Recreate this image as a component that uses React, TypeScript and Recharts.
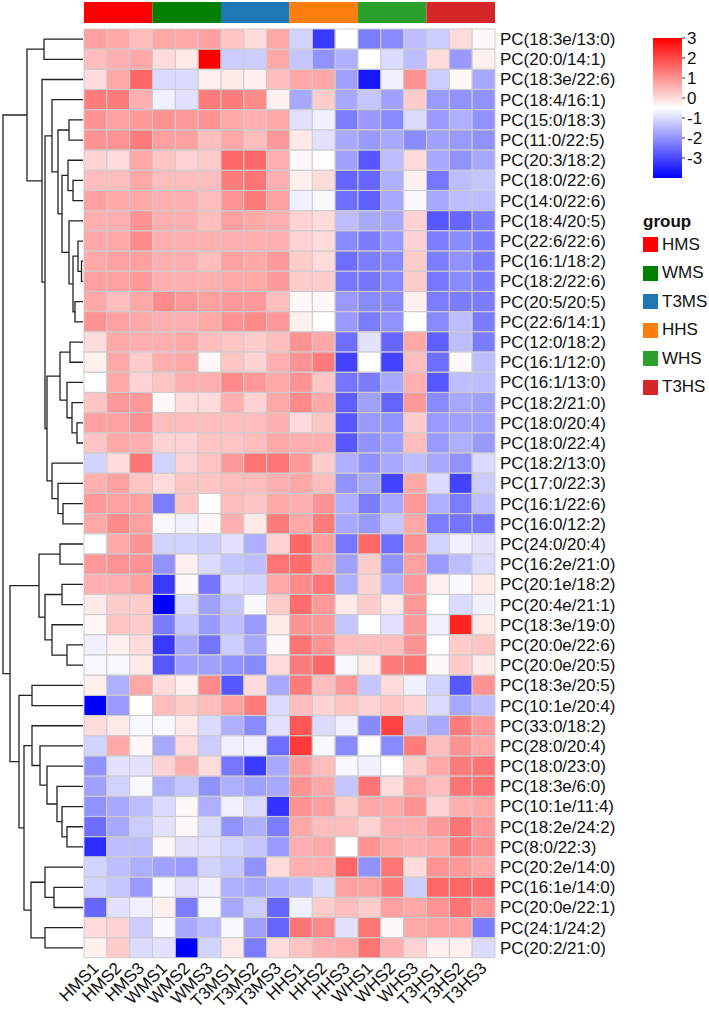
import React from 'react';
import { BarChart, Bar, Cell, XAxis, YAxis, ScatterChart, Scatter } from 'recharts';

const samples = ['HMS1', 'HMS2', 'HMS3', 'WMS1', 'WMS2', 'WMS3', 'T3MS1', 'T3MS2', 'T3MS3',
  'HHS1', 'HHS2', 'HHS3', 'WHS1', 'WHS2', 'WHS3', 'T3HS1', 'T3HS2', 'T3HS3'];
const sampleGroup = ['HMS', 'HMS', 'HMS', 'WMS', 'WMS', 'WMS', 'T3MS', 'T3MS', 'T3MS',
  'HHS', 'HHS', 'HHS', 'WHS', 'WHS', 'WHS', 'T3HS', 'T3HS', 'T3HS'];
const groups = ['HMS', 'WMS', 'T3MS', 'HHS', 'WHS', 'T3HS'];
const groupColors = ['#FF0000', '#008000', '#1F77B4', '#FF7F0E', '#2CA02C', '#D62728'];

const lipids = [
  'PC(18:3e/13:0)', 'PC(20:0/14:1)', 'PC(18:3e/22:6)', 'PC(18:4/16:1)', 'PC(15:0/18:3)',
  'PC(11:0/22:5)', 'PC(20:3/18:2)', 'PC(18:0/22:6)', 'PC(14:0/22:6)', 'PC(18:4/20:5)',
  'PC(22:6/22:6)', 'PC(16:1/18:2)', 'PC(18:2/22:6)', 'PC(20:5/20:5)', 'PC(22:6/14:1)',
  'PC(12:0/18:2)', 'PC(16:1/12:0)', 'PC(16:1/13:0)', 'PC(18:2/21:0)', 'PC(18:0/20:4)',
  'PC(18:0/22:4)', 'PC(18:2/13:0)', 'PC(17:0/22:3)', 'PC(16:1/22:6)', 'PC(16:0/12:2)',
  'PC(24:0/20:4)', 'PC(16:2e/21:0)', 'PC(20:1e/18:2)', 'PC(20:4e/21:1)', 'PC(18:3e/19:0)',
  'PC(20:0e/22:6)', 'PC(20:0e/20:5)', 'PC(18:3e/20:5)', 'PC(10:1e/20:4)', 'PC(33:0/18:2)',
  'PC(28:0/20:4)', 'PC(18:0/23:0)', 'PC(18:3e/6:0)', 'PC(10:1e/11:4)', 'PC(18:2e/24:2)',
  'PC(8:0/22:3)', 'PC(20:2e/14:0)', 'PC(16:1e/14:0)', 'PC(20:0e/22:1)', 'PC(24:1/24:2)',
  'PC(20:2/21:0)',
];

// scaled values, one row per lipid, columns in sample order
const values: number[][] = [
  [0.8, 0.7, 0.4, 0.7, 0.7, 0.8, 0.3, 0.0, 0.7, -1.1, -3.2, -0.5, -2.3, -2.1, -1.4, -1.2, 0.0, -0.4],
  [0.4, 0.6, 0.7, 0.0, -0.2, 3.0, -1.2, -1.2, 0.7, -1.3, -2.0, -1.6, -0.5, -1.0, -1.4, 0.0, -1.9, -0.3],
  [0.0, 0.7, 1.6, -1.0, -1.0, -0.3, -0.2, -0.3, 0.4, 0.7, 0.7, -1.8, -3.7, -0.7, 1.0, -1.2, -0.4, -1.7],
  [1.3, 1.3, 0.6, -0.7, -0.9, 1.3, 1.3, 1.1, -0.3, -1.7, 0.2, -1.7, -1.3, -1.8, 0.2, -1.9, -2.0, -2.0],
  [1.0, 0.8, 0.9, 1.0, 0.9, 1.0, 0.7, 0.6, 0.7, -0.9, -0.7, -2.3, -1.9, -2.1, -1.0, -1.9, -1.6, -2.0],
  [1.0, 1.0, 1.3, 0.8, 0.8, 0.4, 0.7, 0.4, 0.9, -0.2, -0.9, -1.7, -1.9, -1.7, -2.1, -1.8, -1.9, -2.0],
  [0.1, 0.0, 0.7, 0.3, 0.1, 0.2, 1.6, 1.6, 0.6, -0.4, -0.5, -1.8, -2.8, -1.4, 0.0, -1.7, -2.0, -1.7],
  [0.4, 0.4, 0.7, 0.4, 0.4, 0.4, 1.3, 1.4, 0.6, -0.3, 0.0, -2.6, -2.6, -1.6, -0.3, -2.4, -1.4, -1.3],
  [0.8, 0.7, 0.7, 0.6, 0.6, 0.4, 1.0, 1.3, 0.8, -0.7, -0.6, -2.5, -2.7, -1.7, -0.6, -1.7, -1.4, -1.4],
  [0.6, 0.6, 1.0, 0.6, 0.6, 0.4, 0.8, 0.7, 0.6, 0.1, 0.0, -1.4, -1.7, -1.7, 0.1, -2.8, -2.6, -2.3],
  [0.7, 0.7, 1.1, 0.6, 0.6, 0.6, 0.6, 0.6, 0.6, 0.1, 0.0, -2.1, -2.3, -1.9, 0.1, -2.3, -2.1, -2.3],
  [0.7, 0.8, 0.8, 0.6, 0.6, 0.4, 0.8, 0.7, 0.9, 0.2, 0.0, -2.5, -2.3, -2.1, 0.2, -2.3, -2.0, -2.3],
  [0.8, 0.8, 0.9, 0.6, 0.6, 0.6, 0.7, 0.7, 0.9, 0.2, 0.2, -2.4, -2.4, -2.1, 0.2, -2.4, -2.1, -2.3],
  [0.7, 0.4, 0.7, 1.1, 0.9, 0.8, 0.9, 0.9, 0.4, -0.4, -0.4, -1.9, -2.1, -2.1, -0.3, -2.3, -2.3, -2.3],
  [1.0, 0.8, 0.7, 0.6, 0.6, 0.7, 1.0, 1.1, 0.9, -0.3, -0.5, -1.9, -2.3, -2.0, -0.5, -2.1, -1.4, -2.3],
  [0.0, 0.7, 0.6, 0.6, 0.7, 0.4, 0.3, 0.2, 0.4, 1.0, 0.7, -2.5, -0.9, -2.6, 0.7, -2.7, -1.4, -2.3],
  [-0.3, 0.7, 0.2, 0.6, 0.7, -0.4, 0.3, 0.1, 0.6, 1.0, 1.3, -3.1, -0.5, -3.1, 0.4, -2.5, -0.4, -1.4],
  [-0.5, 0.7, 0.1, 0.3, 0.6, 0.6, 1.1, 0.9, 0.7, 1.0, 0.3, -2.4, -2.3, -1.7, 0.6, -2.8, -1.4, -1.4],
  [0.3, 0.9, 0.9, -0.4, 0.0, 0.0, 0.6, 0.1, 0.7, 1.1, 0.7, -2.7, -1.8, -2.6, 0.9, -2.1, -1.7, -1.8],
  [0.8, 0.8, 1.0, 0.4, 0.4, 0.4, 0.4, 0.4, 0.6, 0.0, 0.3, -2.8, -1.9, -2.0, 0.2, -1.9, -1.8, -1.8],
  [0.3, 0.7, 0.6, 0.1, 0.1, 0.3, 0.3, 0.4, 0.7, 0.6, 0.6, -2.8, -2.0, -1.8, 0.4, -1.9, -1.6, -1.9],
  [-1.1, 0.0, 1.4, -1.1, 0.1, 0.3, 0.9, 1.4, 1.4, 0.9, 0.2, -1.6, -2.0, -1.7, -1.4, -1.7, -2.0, -1.0],
  [0.6, 0.8, 0.3, 0.0, 0.3, 0.3, 0.4, 0.4, 0.6, 0.7, 0.4, -2.0, -1.7, -3.1, 0.7, -1.0, -3.1, -1.2],
  [0.9, 0.8, 0.8, -2.3, 0.3, -0.5, 0.4, 0.3, 0.7, 0.6, 1.0, -1.6, -2.3, -1.7, 0.9, -1.6, -2.3, -1.4],
  [0.7, 1.1, 0.8, -0.6, -0.7, -0.4, 0.6, -0.2, 1.3, 0.7, 1.3, -1.7, -1.9, -1.3, 0.7, -2.3, -2.4, -2.4],
  [-0.5, 0.7, 1.0, -1.1, -1.1, -1.2, -0.9, -1.6, 0.1, 1.6, 0.8, -2.4, 1.6, -2.5, 1.0, -1.1, -0.7, -0.9],
  [0.9, 1.0, 1.0, -2.0, -0.3, -1.0, -1.3, -1.4, 1.4, 1.5, 0.7, -1.8, 0.2, -2.0, 0.8, -1.9, -1.4, -1.0],
  [0.6, 0.6, 0.8, -3.2, -0.4, -2.4, -1.0, -1.1, 0.7, 1.1, 1.4, -1.6, 0.1, -1.6, 0.9, -0.3, -0.6, -0.2],
  [-0.2, 0.2, 0.2, -4.0, -1.0, -1.8, -1.3, -0.6, 0.2, 1.5, 0.9, -0.2, 0.2, -0.2, 0.9, -0.5, -1.0, -0.7],
  [-0.4, 0.3, 0.2, -2.3, -1.3, -1.9, -1.4, -1.9, -0.2, 1.0, 0.9, -1.3, -0.5, -0.9, 0.9, -0.7, 2.5, -0.2],
  [-0.7, -0.3, 0.0, -3.2, -1.7, -2.4, -1.2, -1.7, -0.4, 1.4, 1.0, 0.4, 0.4, 0.4, 1.0, -0.5, 0.2, 0.3],
  [-0.6, -0.6, -0.2, -2.8, -1.8, -1.8, -2.0, -2.1, 0.0, 1.3, 1.6, -0.6, -0.2, 1.3, 1.4, -0.4, 0.2, -0.2],
  [-0.3, -1.6, 0.7, 0.0, -0.3, 1.1, -2.8, 0.0, -1.7, 1.3, 0.4, 0.9, -1.3, 0.0, -0.7, -1.1, -2.8, 1.0],
  [-4.0, -1.9, -0.5, 0.4, 0.2, 0.4, 0.8, 1.3, -1.0, 0.4, 0.1, 0.3, 0.1, 0.3, 0.1, -1.0, -1.7, -1.4],
  [0.0, -0.2, -0.6, -0.6, -0.2, -1.0, -1.6, -2.1, -0.9, 1.8, -1.0, -0.7, -2.1, 2.1, -1.4, -1.7, 1.3, 0.9],
  [-1.1, 0.7, -0.4, -1.7, 0.0, -1.2, -0.7, -0.7, -2.5, 2.2, -0.6, -2.1, -0.5, -2.1, 1.3, 0.4, 1.0, 0.7],
  [-2.0, -0.9, -0.9, 0.1, 0.6, 0.0, -2.4, -3.2, -1.7, 0.8, 0.4, -0.6, -0.7, -0.5, 0.2, 0.7, 1.3, 1.4],
  [-1.8, -1.1, -0.6, -1.6, -1.3, -2.0, -1.6, -1.8, -1.7, 1.0, 0.7, -1.3, 1.4, 0.0, 0.7, 0.4, 1.4, 1.4],
  [-2.0, -1.7, -1.4, -1.0, -0.4, -1.6, -0.7, -1.0, -3.3, 1.0, 0.8, 0.2, 0.7, 0.7, 1.0, 0.1, 0.6, 0.7],
  [-2.5, -1.7, -1.2, -0.9, -0.4, -1.0, -2.0, -1.6, -2.3, 0.7, 0.4, 0.4, 0.1, 0.6, 0.6, 0.9, 1.4, 0.9],
  [-3.4, -1.4, -1.4, -0.4, -0.9, -0.9, -1.1, -1.3, -1.9, 0.6, 0.7, -0.5, 1.0, 0.7, 0.6, 0.7, 1.3, 1.0],
  [-1.1, -1.4, -1.6, -1.8, -1.9, -1.1, -1.3, -2.0, 0.0, 0.6, 0.6, 1.6, -2.0, 1.4, 0.0, 1.0, 0.9, 0.7],
  [-1.1, -1.3, -1.9, -0.6, -0.9, -0.7, -1.6, -1.7, -1.6, -1.4, -1.0, 0.8, 0.8, 1.3, -1.2, 1.6, 1.6, 1.6],
  [-2.6, -0.9, -0.7, -0.3, -2.3, -0.6, -1.7, -1.2, -2.6, -0.7, 0.2, 0.4, 0.2, 0.8, 0.7, 1.0, 1.4, 1.0],
  [0.0, 0.1, -1.2, -0.6, -1.7, -1.4, -0.6, -1.8, -2.6, 1.4, 1.1, -0.9, 1.4, -0.4, 0.7, 0.8, 0.8, -2.3],
  [-0.3, 0.2, -1.0, -0.9, -4.0, -1.1, -0.2, -2.3, 0.0, 0.3, 0.6, 0.7, 1.4, 0.6, 0.1, -0.3, -0.3, -1.0],
];

const scaleTicks = [3, 2, 1, 0, -1, -2, -3];
const LO = -4;
const HI = 3;

// row clustering: [left, right, merge height], numbers are row indices
type Node = number | [Node, Node, number];
const upperTop: Node = [[0, 1, 39], [2, [
  [3, [[4, 5, 14], [[6, [7, 8, 10], 15], [9, [[10, [11, 12, 1.5], 5], [13, 14, 8], 10], 14], 21], 25], 31],
  [[[15, 16, 13], [17, [18, [19, 20, 6], 11], 16], 23], [21, [22, [23, 24, 20], 25], 31], 36],
  38], 41], 56];
const lowerMid: Node = [[25, 26, 23], [[27, 28, 21], [29, [30, 31, 16], 31], 38], 44];
const lowerBottom: Node = [[32, 33, 51], [
  [34, [35, [36, [37, [38, [39, 40, 16], 21], 26], 36], 43], 51],
  [[41, [42, 43, 29], 38], [44, 45, 38], 52],
  59], 64];
const tree: Node = [upperTop, [lowerMid, lowerBottom, 73], 80];

function walk(n: Node, out: { h: number; y: number }[][]): { h: number; y: number } {
  if (typeof n === 'number') return { h: 0, y: n + 0.5 };
  const l = walk(n[0], out);
  const r = walk(n[1], out);
  out.push([
    { h: l.h, y: l.y },
    { h: n[2], y: l.y },
    { h: n[2], y: r.y },
    { h: r.h, y: r.y },
  ]);
  return { h: n[2], y: (l.y + r.y) / 2 };
}
const links: { h: number; y: number }[][] = [];
walk(tree, links);

function heat(v: number) {
  const mid = (LO + HI) / 2;
  if (v >= mid) {
    const c = Math.round(255 * (1 - Math.min(1, (v - mid) / (HI - mid))));
    return `rgb(255,${c},${c})`;
  }
  const c = Math.round(255 * (1 - Math.min(1, (mid - v) / (mid - LO))));
  return `rgb(${c},${c},255)`;
}

const font = '"Liberation Sans", Arial, sans-serif';

const rows = lipids.map((name) => {
  const r: Record<string, any> = { name };
  samples.forEach((s) => (r[s] = 1));
  return r;
});
const groupRow: Record<string, any> = { name: 'group' };
groups.forEach((g) => (groupRow[g] = sampleGroup.filter((s) => s === g).length));

const RowTick = (p: any) => (
  <text x={p.x} y={p.y} dy="0.35em" fontSize={17} fill="#111" fontFamily={font}>
    {p.payload.value}
  </text>
);

const ColTick = (p: any) => (
  <text x={p.x} y={p.y} dy="0.35em" textAnchor="end" fontSize={17} fill="#111" fontFamily={font}
    transform={`rotate(-45 ${p.x} ${p.y})`}>
    {samples[Math.floor(p.payload.value)]}
  </text>
);

export default function App() {
  return (
    <div style={{ position: 'absolute', left: 0, top: 0, width: 709, height: 1019, background: '#fff', fontFamily: font }}>
      <div style={{ position: 'absolute', left: 0, top: 0 }}>
        <ScatterChart width={84} height={1019} margin={{ top: 29, right: 1, bottom: 61, left: 3 }}>
          <XAxis type="number" dataKey="h" domain={[0, 80]} reversed hide />
          <YAxis type="number" dataKey="y" domain={[0, 46]} reversed hide />
          {links.map((seg, i) => (
            <Scatter key={i} data={seg} line={{ stroke: '#222', strokeWidth: 1.3 }}
              shape={() => <g />} isAnimationActive={false} />
          ))}
        </ScatterChart>
      </div>

      <div style={{ position: 'absolute', left: 0, top: 0 }}>
        <BarChart layout="vertical" width={709} height={30} data={[groupRow]}
          margin={{ top: 2, right: 214, bottom: 7, left: 84 }} barCategoryGap={0}>
          <XAxis type="number" domain={[0, 18]} hide />
          <YAxis type="category" dataKey="name" hide />
          {groups.map((g, i) => (
            <Bar key={g} dataKey={g} stackId="grp" fill={groupColors[i]} isAnimationActive={false} />
          ))}
        </BarChart>
      </div>

      <div style={{ position: 'absolute', left: 0, top: 0 }}>
        <BarChart layout="vertical" width={709} height={1019} data={rows}
          margin={{ top: 29, right: 14, bottom: 6, left: 84 }} barCategoryGap={0} barGap={0}>
          <XAxis type="number" domain={[0, 18]} ticks={samples.map((_, j) => j + 0.5)} interval={0}
            height={55} tickSize={0} tickMargin={7} axisLine={false} tickLine={false} tick={<ColTick />} />
          <YAxis type="category" dataKey="name" orientation="right" width={200} interval={0}
            tickSize={0} tickMargin={5} axisLine={false} tickLine={false} tick={<RowTick />} />
          {samples.map((s, j) => (
            <Bar key={s} dataKey={s} stackId="hm" isAnimationActive={false}>
              {values.map((row, i) => (
                <Cell key={i} fill={heat(row[j])} stroke="#cccccc" strokeWidth={1} />
              ))}
            </Bar>
          ))}
        </BarChart>
      </div>

      <div style={{ position: 'absolute', left: 640, top: 0 }}>
        <BarChart width={69} height={200} data={[{ k: 'scale', range: [LO, HI] }]}
          margin={{ top: 38, right: 0, bottom: 22, left: 13 }} barCategoryGap={0}>
          <defs>
            <linearGradient id="scaleGrad" x1="0" y1="0" x2="0" y2="1">
              <stop offset="0%" stopColor={heat(HI)} />
              <stop offset="50%" stopColor={heat((LO + HI) / 2)} />
              <stop offset="100%" stopColor={heat(LO)} />
            </linearGradient>
          </defs>
          <XAxis dataKey="k" hide />
          <YAxis type="number" orientation="right" domain={[LO, HI]} ticks={scaleTicks} interval={0}
            width={27} tickSize={3} tickMargin={2} axisLine={false} stroke="#333"
            tick={{ fontSize: 17, fill: '#111', fontFamily: font, textAnchor: 'start' }} />
          <Bar dataKey="range" fill="url(#scaleGrad)" isAnimationActive={false} />
        </BarChart>
      </div>

      <div style={{ position: 'absolute', left: 643, top: 212, fontSize: 17, fontWeight: 'bold', color: '#111' }}>
        group
      </div>
      {groups.map((g, i) => (
        <div key={g} style={{ position: 'absolute', left: 643, top: 237 + i * 28.5, height: 15, display: 'flex', alignItems: 'center' }}>
          <span style={{ display: 'inline-block', width: 15, height: 15, background: groupColors[i] }} />
          <span style={{ marginLeft: 4, fontSize: 17, color: '#111' }}>{g}</span>
        </div>
      ))}
    </div>
  );
}
